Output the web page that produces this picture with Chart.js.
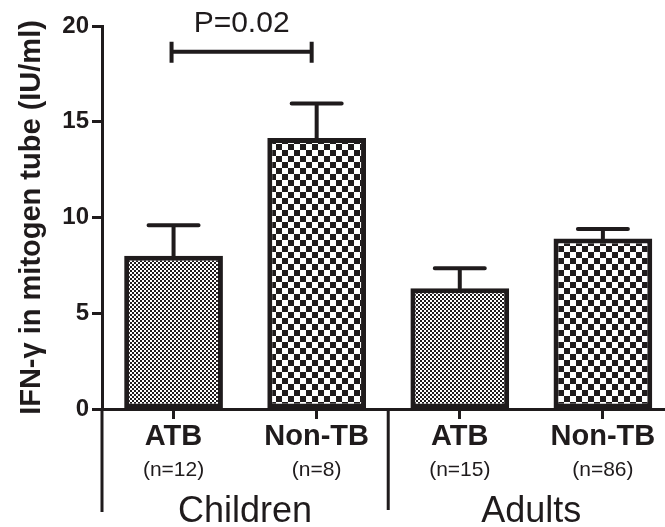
<!DOCTYPE html>
<html>
<head>
<meta charset="utf-8">
<script src="https://cdn.jsdelivr.net/npm/chart.js@4.4.0/dist/chart.umd.min.js"></script>
<style>
  html, body { margin: 0; padding: 0; background: #fff; }
  #wrap { width: 665px; height: 527px; position: relative; }
</style>
</head>
<body>
<div id="wrap"><canvas id="ifn"></canvas></div>
<script>
// values
const groups = ['Children', 'Adults'];
const categories = ['ATB', 'Non-TB', 'ATB', 'Non-TB'];
const counts = ['(n=12)', '(n=8)', '(n=15)', '(n=86)'];
const means = [8.0, 14.15, 6.3, 8.9];
const errors = [1.6, 1.8, 1.05, 0.5];
const yTicks = [0, 5, 10, 15, 20];
const pLabel = 'P=0.02';
const pLevel = 18.65;

const ink = '#1f1b1c';
const font = '"Liberation Sans", Arial, sans-serif';

function checker(cell) {
    const c = document.createElement('canvas');
    c.width = c.height = cell * 2;
    const g = c.getContext('2d');
    g.fillStyle = '#fff';
    g.fillRect(0, 0, cell * 2, cell * 2);
    g.fillStyle = ink;
    g.fillRect(0, 0, cell, cell);
    g.fillRect(cell, cell, cell, cell);
    return g.createPattern(c, 'repeat');
}
const fine = checker(2);
const coarse = checker(6);

// error bars, p-value bracket and the grouping lines/labels below the axis
const extras = {
    id: 'extras',
    afterDatasetsDraw(chart) {
        const ctx = chart.ctx;
        const y = chart.scales.y;
        const bars = chart.getDatasetMeta(0).data;
        ctx.save();
        ctx.strokeStyle = ink;
        ctx.lineWidth = 4;
        ctx.lineCap = 'round';
        bars.forEach((bar, i) => {
            const top = y.getPixelForValue(means[i]);
            const cap = y.getPixelForValue(means[i] + errors[i]);
            ctx.beginPath();
            ctx.moveTo(bar.x, top);
            ctx.lineTo(bar.x, cap);
            ctx.moveTo(bar.x - 25, cap);
            ctx.lineTo(bar.x + 25, cap);
            ctx.stroke();
        });
        ctx.restore();
    },
    afterDraw(chart) {
        const ctx = chart.ctx;
        const x = chart.scales.x;
        const y = chart.scales.y;
        const area = chart.chartArea;
        ctx.save();
        ctx.strokeStyle = ink;
        ctx.fillStyle = ink;
        ctx.lineWidth = 3;

        // y axis runs on below the x axis, plus the group divider
        ctx.beginPath();
        ctx.moveTo(area.left, area.bottom);
        ctx.lineTo(area.left, 512);
        const mid = x.getPixelForValue(1.5);
        ctx.moveTo(mid, area.bottom);
        ctx.lineTo(mid, 510);
        ctx.stroke();

        // bracket
        const x0 = x.getPixelForValue(0) - 2;
        const x1 = x.getPixelForValue(1) - 5;
        const py = y.getPixelForValue(pLevel);
        ctx.lineWidth = 4;
        ctx.beginPath();
        ctx.moveTo(x0, py);
        ctx.lineTo(x1, py);
        ctx.moveTo(x0, py - 10);
        ctx.lineTo(x0, py + 11);
        ctx.moveTo(x1, py - 10);
        ctx.lineTo(x1, py + 11);
        ctx.stroke();

        ctx.textAlign = 'center';
        ctx.textBaseline = 'alphabetic';
        ctx.font = '30px ' + font;
        ctx.fillText(pLabel, (x0 + x1) / 2, py - 20);

        ctx.font = '21px ' + font;
        counts.forEach((n, i) => {
            ctx.fillText(n, x.getPixelForValue(i), 476);
        });

        ctx.font = '36px ' + font;
        groups.forEach((g, i) => {
            ctx.fillText(g, x.getPixelForValue(i * 2 + 0.5), 522);
        });
        ctx.restore();
    }
};

new Chart(
    document.getElementById('ifn'),
    {
        type: 'bar',
        plugins: [extras],
        data: {
            datasets: [
                {
                    data: means.map((m, i) => ({x: i, y: m})),
                    backgroundColor: [fine, coarse, fine, coarse],
                    borderColor: ink,
                    borderWidth: 5,
                    borderSkipped: false,
                    categoryPercentage: 1,
                    barPercentage: 0.69
                }
            ]
        },
        options: {
            responsive: true,
            maintainAspectRatio: false,
            animation: false,
            layout: {
                padding: {top: 26, left: 0, right: 0, bottom: 0}
            },
            plugins: {
                legend: {display: false},
                tooltip: {enabled: false}
            },
            scales: {
                x: {
                    type: 'linear',
                    min: -0.5,
                    max: 3.434,
                    offset: false,
                    afterBuildTicks: (scale) => {
                        scale.ticks = categories.map((c, i) => ({value: i}));
                    },
                    afterFit: (scale) => {
                        scale.height = 118;
                        scale.paddingLeft = 0;
                        scale.paddingRight = 0;
                    },
                    border: {display: true, color: ink, width: 3},
                    grid: {
                        offset: false,
                        drawOnChartArea: false,
                        drawTicks: true,
                        tickLength: 10,
                        tickWidth: 3,
                        color: ink
                    },
                    ticks: {
                        autoSkip: false,
                        maxRotation: 0,
                        padding: 1,
                        color: ink,
                        font: {family: font, size: 29, weight: 'bold', lineHeight: 1.2},
                        callback: (v) => categories[v]
                    }
                },
                y: {
                    min: 0,
                    max: 20,
                    afterBuildTicks: (scale) => {
                        scale.ticks = yTicks.map((v) => ({value: v}));
                    },
                    afterFit: (scale) => {
                        scale.width = 102;
                        scale.paddingTop = 0;
                        scale.paddingBottom = 0;
                    },
                    border: {display: true, color: ink, width: 3},
                    grid: {
                        drawOnChartArea: false,
                        drawTicks: true,
                        tickLength: 10,
                        tickWidth: 3,
                        color: ink
                    },
                    ticks: {
                        padding: 3,
                        color: ink,
                        font: {family: font, size: 24, weight: 'bold'}
                    },
                    title: {
                        display: true,
                        text: 'IFN-\u03b3 in mitogen tube (IU/ml)',
                        color: ink,
                        padding: {top: 15, bottom: 0},
                        font: {family: font, size: 29, weight: 'bold', lineHeight: 1.2}
                    }
                }
            }
        }
    }
);
</script>
</body>
</html>
